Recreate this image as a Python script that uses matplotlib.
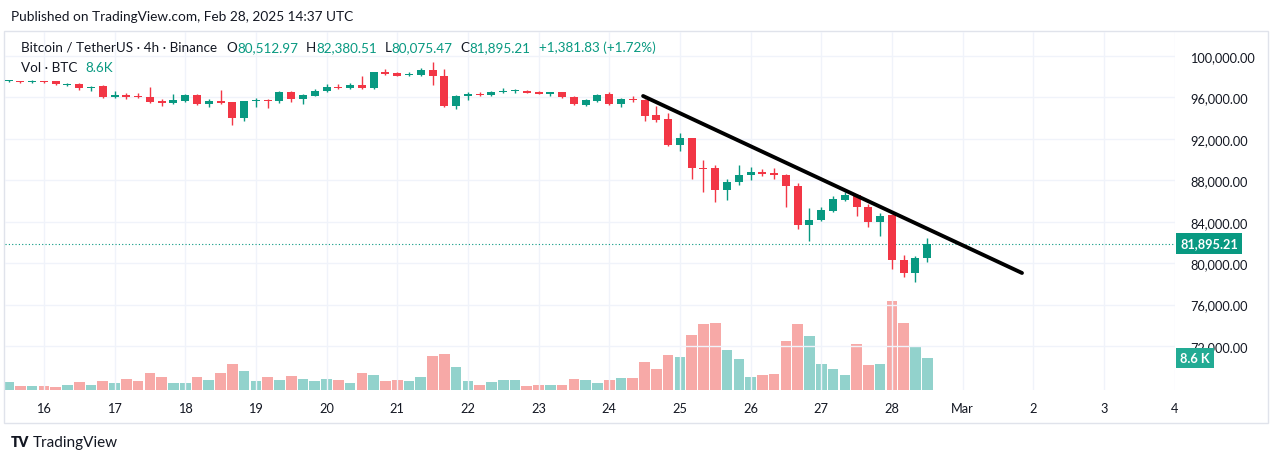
import pandas as pd
import matplotlib
matplotlib.use("Agg")
import matplotlib.pyplot as plt
import matplotlib.dates as mdates
from matplotlib.transforms import blended_transform_factory

plt.rcParams['font.family'] = ['Lato', 'DejaVu Sans']

# BTC/USDT 4h candles, Feb 15 12:00 -> Feb 28 12:00 UTC
times = pd.date_range("2025-02-15 12:00", periods=79, freq="4h")

opens = [97560, 97540, 97490, 97520, 97560, 97230, 97300, 96880, 97070, 96040,
         96260, 96110, 96010, 95660, 95430, 95690, 96230, 95400, 95630, 95530,
         94010, 95640, 95720, 95630, 96500, 95850, 96170, 96590, 97040, 96880,
         97200, 96880, 98430, 98330, 98170, 98200, 98650, 98100, 95200, 96110,
         96330, 96230, 96550, 96600, 96650, 96550, 96330, 96500, 96070, 95300,
         95650, 96330, 95370, 95850, 95780, 94300, 93920, 91410, 92050, 89190,
         89190, 87090, 87800, 88510, 88770, 88670, 88510, 87480, 83680, 84170,
         85060, 86120, 86580, 85390, 84000, 84650, 80330, 79050, 80512.97]
highs = [97650, 97600, 97680, 97600, 97620, 97400, 97350, 97130, 97230, 96620,
         96430, 96400, 96980, 95850, 96330, 96330, 96300, 95850, 96720, 95600,
         95700, 95920, 95850, 96600, 96650, 96330, 96810, 97300, 97300, 97360,
         98100, 98500, 98740, 98430, 98480, 98810, 99450, 98740, 96200, 96500,
         96550, 96620, 96880, 96810, 96700, 96650, 96550, 96550, 96100, 95850,
         96330, 96500, 95900, 96110, 95850, 95200, 94500, 92540, 92120, 89960,
         89480, 88120, 89480, 89310, 89090, 89190, 88600, 87710, 85300, 85390,
         86510, 86900, 86650, 85710, 84840, 84700, 80810, 80720, 82380.51]
lows = [97500, 97430, 97360, 97400, 97230, 97130, 96750, 96650, 95950, 95980,
        95850, 95920, 95500, 95200, 95350, 95530, 95250, 95050, 95400, 93370,
        93720, 95050, 94980, 95500, 95530, 95370, 96110, 96500, 96810, 96810,
        96800, 96800, 98170, 98040, 98100, 98100, 97200, 95100, 94880, 95780,
        96170, 96170, 96430, 96430, 96400, 96300, 96170, 95950, 95300, 95200,
        95530, 95300, 95080, 95530, 93750, 93660, 91280, 90860, 88120, 86840,
        85930, 86100, 87550, 88060, 88380, 88120, 85390, 83300, 82140, 84040,
        84940, 86000, 84580, 83520, 82650, 79430, 78630, 78150, 80075.47]
closes = [97600, 97490, 97590, 97460, 97270, 97330, 96880, 97040, 96010, 96230,
          96010, 96010, 95590, 95430, 95750, 96200, 95370, 95690, 95490, 94010,
          95610, 95700, 95660, 96500, 95850, 96230, 96650, 97040, 96880, 97200,
          96880, 98430, 98260, 98100, 98260, 98650, 98100, 95200, 96130, 96330,
          96230, 96550, 96620, 96640, 96460, 96360, 96500, 96010, 95370, 95750,
          96230, 95370, 95850, 95780, 94240, 93850, 91410, 92050, 89190, 89100,
          87090, 87800, 88540, 88830, 88610, 88510, 87480, 83680, 84170, 85130,
          86190, 86580, 85390, 84000, 84580, 80330, 79050, 80513.38, 81895.21]
volume_k = [2.2, 1.06, 1.06, 1.06, 0.9, 1.3, 2.1, 1.3, 2.4, 1.95,
            3.0, 2.4, 4.6, 3.5, 1.95, 1.8, 3.4, 2.65, 4.6, 6.8,
            5.0, 2.4, 3.5, 2.65, 3.7, 3.0, 2.4, 3.0, 2.65, 1.8,
            4.6, 4.0, 2.4, 2.65, 2.4, 3.5, 9.0, 9.5, 6.2, 2.35,
            1.45, 2.0, 2.6, 2.6, 1.0, 1.4, 1.4, 1.25, 2.9, 2.65,
            1.85, 2.65, 3.1, 3.3, 7.5, 5.7, 9.4, 8.8, 14.6, 17.4,
            17.9, 10.5, 8.3, 3.45, 3.9, 4.2, 13.0, 17.4, 14.4, 6.9,
            5.5, 4.1, 12.2, 6.6, 6.9, 23.7, 17.7, 11.8, 8.6]

# hand drawn trend line (time, price)
trend_times = [pd.Timestamp("2025-02-24 11:30"), pd.Timestamp("2025-03-01 20:10")]
trend_prices = [96140, 79050]

price_ticks = list(range(72000, 100001, 4000))
day_ticks = pd.date_range("2025-02-16", "2025-03-04", freq="D")
day_labels = ["Mar" if d.day == 1 else str(d.day) for d in day_ticks]

up = "#089981"
down = "#f23645"
vol_up = "#92d2cc"
vol_down = "#f7a9a7"
dark = "#131722"
grid_c = "#f0f3fa"

W, H = 1280, 464
fig = plt.figure(figsize=(W / 100, H / 100), dpi=100)
fig.patch.set_facecolor("white")

# chart pane in pixels: x 5..1175, y 33..391
ax2 = fig.add_axes([5 / W, 1 - 391 / H, 1170 / W, 358 / H])
ax = fig.add_axes(ax2.get_position(), sharex=ax2)
ax.set_zorder(2)
ax2.set_zorder(1)
ax.patch.set_visible(False)

colors = [up if c >= o else down for o, c in zip(opens, closes)]
vcolors = [vol_up if c >= o else vol_down for o, c in zip(opens, closes)]
cw = 4 / 24

ax2.bar(times, volume_k, width=cw * 0.9, color=vcolors, linewidth=0)
ax2.set_ylim(0, 95)
ax2.set_yticks([])
ax2.tick_params(left=False, right=False, labelleft=False)

ax.vlines(times, lows, highs, colors=colors, linewidth=1, zorder=2)
bottoms = [min(o, c) for o, c in zip(opens, closes)]
heights = [max(abs(c - o), 90) for o, c in zip(opens, closes)]
ax.bar(times, heights, bottom=bottoms, width=cw * 0.68, color=colors, linewidth=0, zorder=3)

ax.plot(trend_times, trend_prices, color="black", linewidth=2.8, solid_capstyle="round", zorder=4)
ax.axhline(closes[-1], color=up, linestyle=(0, (1, 2)), linewidth=0.8, zorder=1)

ax.set_xlim(pd.Timestamp("2025-02-15 10:48"), pd.Timestamp("2025-03-04 00:08"))
ax.set_ylim(67750, 102320)

ax.yaxis.tick_right()
ax.set_yticks(price_ticks)
ax.set_yticklabels([f"{p:,.2f}" for p in price_ticks])
ax.set_xticks(day_ticks)
ax.set_xticklabels(day_labels)
ax.tick_params(axis="y", length=0, pad=11, labelsize=9.2, labelcolor=dark)
ax.tick_params(axis="x", length=0, pad=9, labelsize=9.2, labelcolor=dark)
ax2.tick_params(axis="x", length=0, labelbottom=False)
ax.set_axisbelow(True)
ax.grid(True, color=grid_c, linewidth=1)
for a in (ax, ax2):
    for s in a.spines.values():
        s.set_visible(False)

# last price / last volume labels on the price scale
tr = blended_transform_factory(ax.transAxes, ax.transData)
ax.text(1.0047, closes[-1], f"{closes[-1]:,.2f}", transform=tr, color="white",
        fontsize=9.2, fontweight="bold", va="center", ha="left", clip_on=False, zorder=6,
        bbox=dict(boxstyle="square,pad=0.32", facecolor=up, edgecolor="none"))
trv = blended_transform_factory(ax.transAxes, ax2.transData)
ax.text(1.0047, volume_k[-1], f"{volume_k[-1]:.1f} K", transform=trv, color="white",
        fontsize=9.2, fontweight="bold", va="center", ha="left", clip_on=False, zorder=6,
        bbox=dict(boxstyle="square,pad=0.32", facecolor="#22ab94", edgecolor="none"))

# frame
fig.patches.append(plt.Rectangle((4 / W, 1 - 424 / H), 1264 / W, 392 / H, transform=fig.transFigure,
                                 fill=False, edgecolor="#e0e3eb", linewidth=1))

fig.text(11 / W, 1 - 17 / H, "Published on TradingView.com, Feb 28, 2025 14:37 UTC",
         fontsize=9.8, color=dark, va="center")

fig.canvas.draw()
r = fig.canvas.get_renderer()
change = closes[-1] - closes[-2]
pct = change / closes[-2] * 100
pieces = [("Bitcoin / TetherUS · 4h · Binance", dark, 9),
          ("O", dark, 0), (f"{opens[-1]:,.2f}", up, 8),
          ("H", dark, 0), (f"{highs[-1]:,.2f}", up, 8),
          ("L", dark, 0), (f"{lows[-1]:,.2f}", up, 8),
          ("C", dark, 0), (f"{closes[-1]:,.2f}", up, 8),
          (f"{change:+,.2f} ({pct:+.2f}%)", up, 0)]
x = 21
for s, c, gap in pieces:
    t = fig.text(x / W, 1 - 48 / H, s, fontsize=9.7, color=c, va="center")
    x += t.get_window_extent(renderer=r).width + gap
x = 21
for s, c, gap in [("Vol · BTC", dark, 8), (f"{volume_k[-1]:.1f}K", up, 0)]:
    t = fig.text(x / W, 1 - 68 / H, s, fontsize=9.7, color=c, va="center")
    x += t.get_window_extent(renderer=r).width + gap

fig.text(11 / W, 1 - 443 / H, "TV", fontsize=10, fontweight="heavy", color=dark, va="center")
fig.text(33 / W, 1 - 443 / H, "TradingView", fontsize=11, color=dark, va="center")

fig.savefig("out.png", dpi=100)
